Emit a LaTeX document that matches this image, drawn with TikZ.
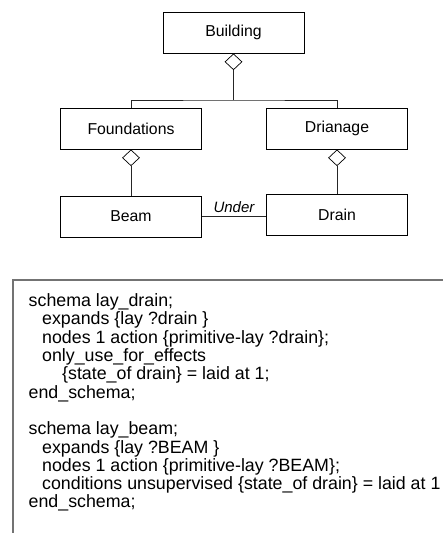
\documentclass[tikz,border=0pt]{standalone}
\usepackage{fontspec}
\setmainfont{Liberation Sans}
\usetikzlibrary{shapes.geometric}
\begin{document}
\begin{tikzpicture}[x=1pt,y=-1pt,
  cls/.style={draw, line width=0.9pt, minimum width=141pt, minimum height=41pt, inner sep=0pt, font=\fontsize{15.8}{18}\selectfont},
  agg/.style={draw, diamond, minimum width=17pt, minimum height=16pt, inner sep=0pt, fill=white, line width=0.7pt},
  conn/.style={line width=0.8pt, draw=black!85},
  frame/.style={draw=black!55, line width=1.3pt},
  code/.style={anchor=north west, inner sep=0pt, align=left, font=\fontsize{17.8}{18.3}\selectfont}]
\useasboundingbox (0,0) rectangle (442,533);
\node[cls] (bld) at (233.5,32.5) {Building};
\node[cls] (fnd) at (131,128.5) {Foundations};
\node[cls] (drg) at (337,128.5) {Drianage};
\node[cls] (beam) at (131,216.5) {Beam};
\node[cls] (drn) at (337,214.5) {Drain};
\node[agg, anchor=north] (d1) at (bld.south) {};
\node[agg, anchor=north] (d2) at (fnd.south) {};
\node[agg, anchor=north] (d3) at (drg.south) {};
\coordinate (j) at (bld.south |- 0,100);
\draw[conn] (d1.south) -- (j);
\draw[conn] (fnd.north) |- (j) -| (drg.north);
\draw[conn] (d2.south) -- (beam.north);
\draw[conn] (d3.south) -- (drn.north);
\coordinate (ue) at (drn.west |- beam.east);
\draw[conn] (beam.east) -- node[above, font=\fontsize{15}{18}\selectfont\itshape, inner sep=3pt] (ul) {Under} (ue);
\coordinate (fb) at (13,560);
\coordinate (ft) at (13,280);
\coordinate (fr) at (460,280);
\draw[frame] (fb) -- (ft) -- (fr);
\node[code] (txt) at (28.5,293.5) {schema lay\_drain;\\
\hspace{13.5pt}expands \{lay ?drain \}\\
\hspace{13.5pt}nodes 1 action \{primitive-lay ?drain\};\\
\hspace{13.5pt}only\_use\_for\_effects\\
\hspace{33.5pt}\{state\_of drain\} = laid at 1;\\
end\_schema;\\
\mbox{}\\
schema lay\_beam;\\
\hspace{13.5pt}expands \{lay ?BEAM \}\\
\hspace{13.5pt}nodes 1 action \{primitive-lay ?BEAM\};\\
\hspace{13.5pt}conditions unsupervised \{state\_of drain\} = laid at 1\\
end\_schema;};
\end{tikzpicture}
\end{document}
